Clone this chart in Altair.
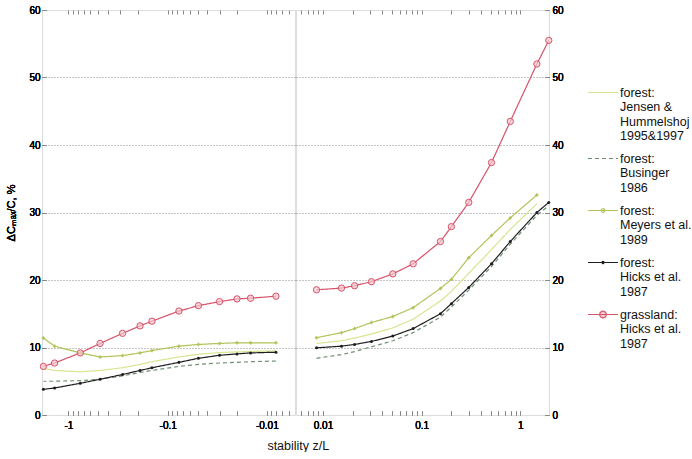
import altair as alt
import pandas as pd

FONT = "Liberation Sans"

SERIES = [
    "forest:|Jensen &|Hummelshoj|1995&1997",
    "forest:|Businger|1986",
    "forest:|Meyers et al.|1989",
    "forest:|Hicks et al.|1987",
    "grassland:|Hicks et al.|1987",
]
COLORS = ["#d6e690", "#6f8f72", "#b0c45a", "#1e1e1e", "#d6536a"]
DASHES = [[1, 0], [4, 3], [1, 0], [1, 0], [1, 0]]

# |z/L| positions on the unstable (negative) side
Z_NEG = [1.79, 1.38, 0.76, 0.48, 0.285, 0.19, 0.144, 0.077, 0.049, 0.030, 0.020, 0.0146, 0.0081]
# z/L positions on the stable (positive) side
Z_POS = [0.0086, 0.0154, 0.0209, 0.031, 0.051, 0.082, 0.155, 0.2, 0.3, 0.51, 0.79, 1.47, 1.94]

JENSEN_NEG = [6.9, 6.6, 6.4, 6.6, 7.0, 7.5, 7.9, 8.6, 9.0, 9.25, 9.35, 9.4, 9.5]
JENSEN_POS = [10.6, 11.0, 11.4, 12.0, 12.9, 14.2, 16.9, 18.3, 21.0, 24.5, 27.5, 31.3]
BUSINGER_NEG = [5.0, 5.0, 5.1, 5.3, 5.8, 6.3, 6.6, 7.2, 7.5, 7.7, 7.8, 7.9, 8.0]
BUSINGER_POS = [8.4, 8.95, 9.4, 10.1, 11.0, 12.2, 14.5, 16.0, 18.5, 22.0, 25.3, 29.6, 31.0]
MEYERS_NEG = [11.4, 10.2, 9.2, 8.6, 8.8, 9.2, 9.55, 10.2, 10.45, 10.6, 10.7, 10.7, 10.7]
MEYERS_POS = [11.45, 12.2, 12.8, 13.7, 14.6, 15.9, 18.75, 20.1, 23.3, 26.6, 29.2, 32.6]
HICKS_F_NEG = [3.8, 4.0, 4.7, 5.3, 6.0, 6.6, 7.0, 7.8, 8.4, 8.85, 9.05, 9.2, 9.3]
HICKS_F_POS = [9.95, 10.2, 10.45, 10.9, 11.7, 12.8, 15.0, 16.5, 18.9, 22.4, 25.7, 30.0, 31.5]
HICKS_G_NEG = [7.2, 7.7, 9.2, 10.6, 12.1, 13.2, 13.9, 15.4, 16.2, 16.8, 17.2, 17.3, 17.6]
HICKS_G_POS = [18.55, 18.8, 19.15, 19.75, 20.9, 22.4, 25.7, 27.9, 31.5, 37.4, 43.5, 52.0, 55.5]

Y_TICKS = [0, 10, 20, 30, 40, 50, 60]
GRID_VALUES = [10, 20, 30, 40, 50]
X_TICKS = [0.006, 0.007, 0.008, 0.009, 0.01, 0.02, 0.03, 0.04, 0.05, 0.06, 0.07, 0.08, 0.09,
           0.1, 0.2, 0.3, 0.4, 0.5, 0.6, 0.7, 0.8, 0.9, 1]

NEG = [JENSEN_NEG, BUSINGER_NEG, MEYERS_NEG, HICKS_F_NEG, HICKS_G_NEG]
POS = [JENSEN_POS, BUSINGER_POS, MEYERS_POS, HICKS_F_POS, HICKS_G_POS]

rows = []
for name, vn, vp in zip(SERIES, NEG, POS):
    for z, v in zip(Z_NEG, vn):
        rows.append({"series": name, "side": "neg", "z": z, "v": v})
    for z, v in zip(Z_POS, vp):
        rows.append({"series": name, "side": "pos", "z": z, "v": v})
df = pd.DataFrame(rows)

yscale = alt.Scale(domain=[0, 60], nice=False)
color_scale = alt.Scale(domain=SERIES, range=COLORS)
dash_scale = alt.Scale(domain=SERIES, range=DASHES)

shape_expr = ("['M-1,0L1,0', 'M-1,0L1,0', "
              "'M-1,0L1,0M0.12,0A0.12,0.12 0 1,1 -0.12,0A0.12,0.12 0 1,1 0.12,0', "
              "'M-1,0L1,0M0.07,0A0.07,0.07 0 1,1 -0.07,0A0.07,0.07 0 1,1 0.07,0', "
              "'M-1,0L1,0M0.22,0A0.22,0.22 0 1,1 -0.22,0A0.22,0.22 0 1,1 0.22,0'][datum.index]")
legend = alt.Legend(
    title=None, orient="none", legendX=545, legendY=66.5,
    symbolType={"expr": shape_expr}, symbolSize=900, symbolStrokeWidth=1.2,
    symbolDash={"expr": "datum.index == 1 ? [4, 3] : [1, 0]"},
    symbolFillColor={"expr": "['transparent','transparent','transparent','#1e1e1e','#f3c9cf'][datum.index]"},
    labelExpr="split(datum.label, '|')", labelFont=FONT, labelFontSize=12.5,
    labelColor="#111", labelOffset=1, rowPadding=0, labelLimit=200,
)

NEG_DOMAIN = [0.0052, 1.85]
POS_DOMAIN = [0.00533, 1.95]


def panel(side):
    d = df[df.side == side]
    if side == "neg":
        xscale = alt.Scale(type="log", domain=NEG_DOMAIN, reverse=True, nice=False)
        ticks = [t for t in X_TICKS if NEG_DOMAIN[0] <= t <= NEG_DOMAIN[1]]
        lbl = ("abs(log(datum.value)/LN10 - round(log(datum.value)/LN10)) < 1e-6 ? "
               "'-' + format(datum.value, '~g') : ''")
        yaxis = alt.Axis(orient="left", values=Y_TICKS, grid=False, domain=False,
                         offset=-4, tickSize=4, labelPadding=2,
                         title="ΔCₘₐₓ/C, %", titlePadding=12, titleFontWeight="normal")
        gaxis = alt.Axis(orient="left", values=GRID_VALUES, grid=True, gridDash=[1, 2],
                         gridColor="#8a8a8a", ticks=False, labels=False, domain=False,
                         title=None, minExtent=0, maxExtent=0)
    else:
        xscale = alt.Scale(type="log", domain=POS_DOMAIN, nice=False)
        ticks = [t for t in X_TICKS if POS_DOMAIN[0] <= t <= POS_DOMAIN[1]]
        lbl = ("abs(log(datum.value)/LN10 - round(log(datum.value)/LN10)) < 1e-6 ? "
               "format(datum.value, '~g') : ''")
        yaxis = alt.Axis(orient="right", values=Y_TICKS, grid=False, domain=False,
                         offset=-4, tickSize=4, labelPadding=3, title=None)
        gaxis = alt.Axis(orient="right", values=GRID_VALUES, grid=True, gridDash=[1, 2],
                         gridColor="#8a8a8a", ticks=False, labels=False, domain=False,
                         title=None, minExtent=0, maxExtent=0)
    base = alt.Chart(d)
    xb = alt.X("z:Q", scale=xscale,
               axis=alt.Axis(orient="bottom", values=ticks, labelExpr=lbl, offset=-4,
                             tickSize=4, domain=False, grid=False, title=None,
                             labelPadding=5, labelFlush=False))
    xt = alt.X("z:Q", scale=xscale,
               axis=alt.Axis(orient="top", values=ticks, labels=False, offset=-4,
                             tickSize=4, domain=False, grid=False, title=None,
                             minExtent=0, maxExtent=0))
    y = alt.Y("v:Q", scale=yscale, axis=yaxis)
    yg = alt.Y("v:Q", scale=yscale, axis=gaxis)

    top = base.mark_point(opacity=0).encode(x=xt, y=yg)
    lines = base.mark_line(strokeWidth=1.2, clip=True).encode(
        x=xb, y=y,
        color=alt.Color("series:N", scale=color_scale, legend=legend),
        strokeDash=alt.StrokeDash("series:N", scale=dash_scale, legend=None),
        order=alt.Order("z:Q"),
    )
    meyers = base.transform_filter(alt.datum.series == SERIES[2]).mark_point(
        shape="cross", size=12, filled=True, color=COLORS[2], opacity=1).encode(x=xb, y=y)
    hicks_f = base.transform_filter(alt.datum.series == SERIES[3]).mark_circle(
        size=9, color=COLORS[3], opacity=1).encode(x=xb, y=y)
    hicks_g = base.transform_filter(alt.datum.series == SERIES[4]).mark_point(
        shape="circle", size=40, filled=True, fill="#f3c9cf", fillOpacity=0.7,
        stroke=COLORS[4], strokeWidth=1, opacity=1).encode(x=xb, y=y)
    return alt.layer(top, lines, meyers, hicks_f, hicks_g).resolve_axis(
        x="independent", y="independent").properties(width=253, height=405)


chart = alt.hconcat(panel("neg"), panel("pos"), spacing=-2).properties(
    title=alt.TitleParams("stability z/L", orient="bottom", anchor="start", dx=262,
                          offset=9, fontSize=12.5, fontWeight="normal", font=FONT,
                          color="#111")
).configure_view(stroke="#555555", strokeWidth=1).configure_axis(
    labelFont=FONT, titleFont=FONT, labelFontSize=12.5, titleFontSize=12.5,
    titleFontWeight="normal", labelColor="#111", titleColor="#111", tickColor="#555"
).configure(background="white", padding={"left": 5, "top": 4, "right": 0, "bottom": 0})

chart.save("out.html", embed_options={"renderer": "svg", "actions": False})
